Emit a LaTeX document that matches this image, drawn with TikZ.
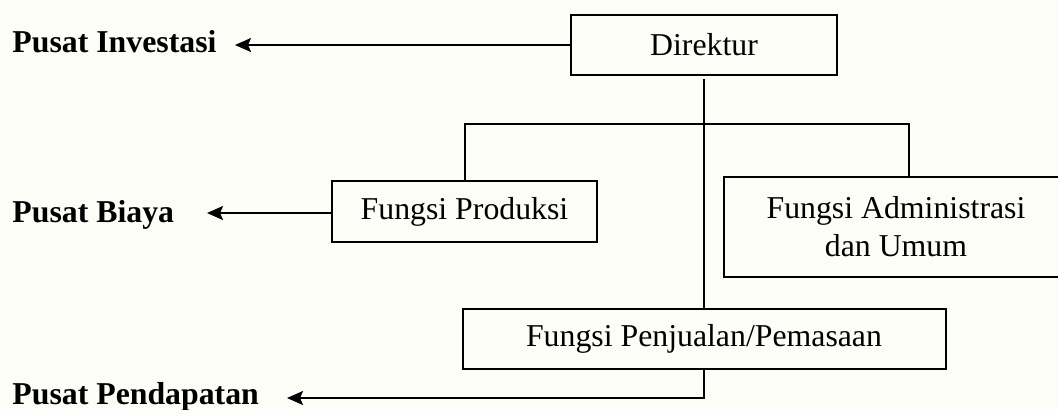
\documentclass[tikz,border=0pt]{standalone}
\usepackage{fontspec}
\setmainfont{Liberation Serif}
\usetikzlibrary{arrows.meta}
\definecolor{paper}{RGB}{253,253,248}
\begin{document}
\begin{tikzpicture}[x=0.5pt,y=-0.5pt,
  box/.style={draw, line width=1pt, inner sep=0pt, align=center,
              font=\fontsize{15.9}{19}\selectfont},
  lab/.style={anchor=base west, inner sep=0pt,
              font=\fontsize{15.9}{19}\selectfont\bfseries},
  link/.style={line width=1pt},
  tolabel/.style={line width=1pt, -{Stealth[length=8pt,width=7pt,inset=1.5pt]}}]
  \fill[paper] (0,0) rectangle (1058,409);
  \useasboundingbox (0,0) rectangle (1058,409);

  % organisation units
  \node[box, minimum width=133pt, minimum height=30pt] (dir) at (704,45) {Direktur};
  \node[box, minimum width=132.5pt, minimum height=30.5pt] (prod) at (464.5,211.5) {Fungsi Produksi};
  \node[box, minimum width=172pt, minimum height=50pt] (adm) at (896,227) {Fungsi Administrasi\\dan Umum};
  \node[box, minimum width=241.5pt, minimum height=30pt] (pen) at (704,339) {Fungsi Penjualan/Pemasaan};

  % responsibility centres
  \node[lab] (inv) at (12,52) {Pusat Investasi};
  \node[lab] (bia) at (12,222) {Pusat Biaya};
  \node[lab] (pend) at (12,404) {Pusat Pendapatan};

  \coordinate (tipI) at (235,45);
  \coordinate (tipB) at (207,213);
  \coordinate (tipP) at (287,398);
  \coordinate (bar) at (704,124);

  % hierarchy lines
  \draw[link, shorten <=1.5pt] (dir.south) -- (pen.north);
  \draw[link] (prod.north) |- (bar) -| ([xshift=6.5pt]adm.north);

  % arrows to the centres
  \draw[tolabel] (dir.west) -- (tipI);
  \draw[tolabel] (prod.west |- tipB) -- (tipB);
  \draw[tolabel] (pen.south) |- (tipP);
\end{tikzpicture}
\end{document}
